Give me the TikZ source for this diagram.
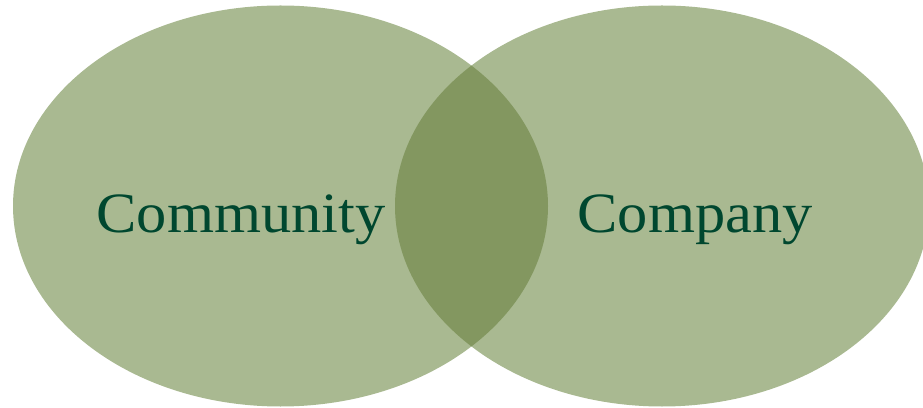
\documentclass[tikz,border=0pt]{standalone}
\usepackage{fontspec}
\setmainfont{Liberation Serif}
\newfontfamily\lblfont[FakeStretch=1.06]{Liberation Serif}
\definecolor{lightgreen}{HTML}{A9B991}
\definecolor{darkgreen}{HTML}{839760}
\definecolor{textgreen}{HTML}{00472F}
\begin{document}
\begin{tikzpicture}[x=1pt,y=1pt,
  lbl/.style={anchor=base,text=textgreen,font=\lblfont\fontsize{57}{60}\selectfont,inner sep=0pt}]
\useasboundingbox (0,0) rectangle (923,407);
\begin{scope}
\clip (0,0) rectangle (923,407);
\fill[lightgreen] (280.5,201) ellipse [x radius=267.5, y radius=200.5];
\fill[lightgreen] (662,201) ellipse [x radius=267, y radius=200.5];
\begin{scope}
\clip (280.5,201) ellipse [x radius=267.5, y radius=200.5];
\fill[darkgreen] (662,201) ellipse [x radius=267, y radius=200.5];
\end{scope}
\end{scope}
\node[lbl] (community) at (241,174) {Community};
\node[lbl] (company) at (695,174) {Company};
\end{tikzpicture}
\end{document}
